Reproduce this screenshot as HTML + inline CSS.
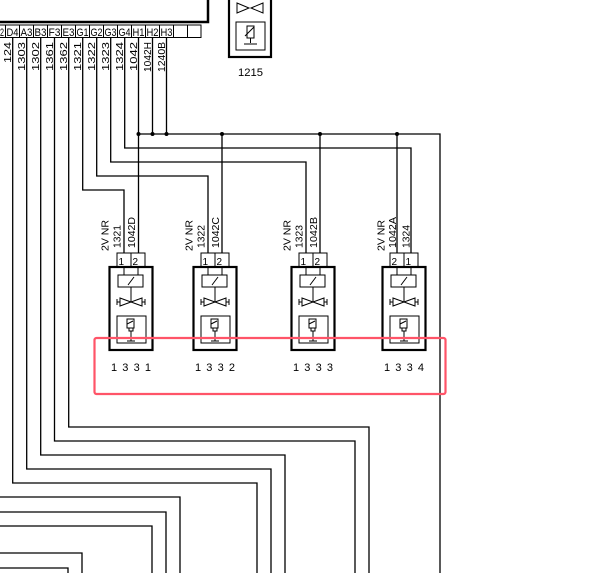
<!DOCTYPE html>
<html><head><meta charset="utf-8"><style>
html,body{margin:0;padding:0;background:#fff;}
svg{display:block;}
text{font-family:"Liberation Sans",sans-serif;fill:#000;}
</style></head><body>
<svg width="602" height="573" viewBox="0 0 602 573" xmlns="http://www.w3.org/2000/svg">
<g fill="none" stroke="#000" stroke-width="1.3">
<rect x="-5" y="-5" width="213" height="27" stroke-width="2.5"/>
<rect x="-2" y="25" width="203" height="12.5" stroke-width="1"/>
<path d="M5.5 25v12.5M19.5 25v12.5M33.5 25v12.5M47.5 25v12.5M61.5 25v12.5M75.5 25v12.5M89.5 25v12.5M103.5 25v12.5M117.5 25v12.5M131.5 25v12.5M145.5 25v12.5M159.5 25v12.5M173.5 25v12.5M187.5 25v12.5" stroke-width="1"/>
<rect x="229" y="-5" width="42" height="62" stroke-width="2.2"/>
<rect x="236" y="22" width="29" height="28" stroke-width="1"/>
<path d="M237 3l12 5-12 5zM263 3l-12 5 12 5z" stroke-width="1" fill="#fff"/>
<rect x="247" y="26" width="7" height="12" stroke-width="1"/>
<path d="M245 36l9-9M250.5 38v5M244 44h13" stroke-width="1"/>
<path d="M12.7 37.5V483H257V573"/>
<path d="M26.7 37.5V469H271V573"/>
<path d="M40.7 37.5V455H285V573"/>
<path d="M54.5 37.5V441H355V573"/>
<path d="M68.7 37.5V427H369V573"/>
<path d="M0 497H180V573"/>
<path d="M0 512H166V573"/>
<path d="M0 526H152V573"/>
<path d="M0 553H82V573"/>
<path d="M0 568H68V573"/>
<path d="M82.7 37.5V190H124V253"/>
<path d="M96.7 37.5V176H208V253"/>
<path d="M110.7 37.5V162H306V253"/>
<path d="M124.7 37.5V148H411V253"/>
<path d="M138.5 37.5V253"/>
<path d="M152.5 37.5V134M166.5 37.5V134"/>
<path d="M138.5 134H440V573"/>
<path d="M222 134V253M320 134V253M397 134V253"/>
</g>
<g fill="#000">
<circle cx="138.5" cy="134" r="2"/><circle cx="152.5" cy="134" r="2"/><circle cx="166.5" cy="134" r="2"/>
<circle cx="222" cy="134" r="2"/><circle cx="320" cy="134" r="2"/><circle cx="397" cy="134" r="2"/>
</g>
<g font-size="11">
<text x="0" y="36" textLength="4" lengthAdjust="spacingAndGlyphs">2</text>
<text x="6.5" y="36" textLength="12" lengthAdjust="spacingAndGlyphs">D4</text>
<text x="20.5" y="36" textLength="12" lengthAdjust="spacingAndGlyphs">A3</text>
<text x="34.5" y="36" textLength="12" lengthAdjust="spacingAndGlyphs">B3</text>
<text x="48.5" y="36" textLength="12" lengthAdjust="spacingAndGlyphs">F3</text>
<text x="62.5" y="36" textLength="12" lengthAdjust="spacingAndGlyphs">E3</text>
<text x="76.5" y="36" textLength="12" lengthAdjust="spacingAndGlyphs">G1</text>
<text x="90.5" y="36" textLength="12" lengthAdjust="spacingAndGlyphs">G2</text>
<text x="104.5" y="36" textLength="12" lengthAdjust="spacingAndGlyphs">G3</text>
<text x="118.5" y="36" textLength="12" lengthAdjust="spacingAndGlyphs">G4</text>
<text x="132.5" y="36" textLength="12" lengthAdjust="spacingAndGlyphs">H1</text>
<text x="146.5" y="36" textLength="12" lengthAdjust="spacingAndGlyphs">H2</text>
<text x="160.5" y="36" textLength="12" lengthAdjust="spacingAndGlyphs">H3</text>
</g>
<g font-size="10" text-anchor="end">
<text transform="translate(11,42) rotate(-90)" textLength="21" lengthAdjust="spacingAndGlyphs">124</text>
<text transform="translate(25,42) rotate(-90)" textLength="29" lengthAdjust="spacingAndGlyphs">1303</text>
<text transform="translate(39,42) rotate(-90)" textLength="29" lengthAdjust="spacingAndGlyphs">1302</text>
<text transform="translate(53,42) rotate(-90)" textLength="29" lengthAdjust="spacingAndGlyphs">1361</text>
<text transform="translate(67,42) rotate(-90)" textLength="29" lengthAdjust="spacingAndGlyphs">1362</text>
<text transform="translate(81,42) rotate(-90)" textLength="29" lengthAdjust="spacingAndGlyphs">1321</text>
<text transform="translate(95,42) rotate(-90)" textLength="29" lengthAdjust="spacingAndGlyphs">1322</text>
<text transform="translate(109,42) rotate(-90)" textLength="29" lengthAdjust="spacingAndGlyphs">1323</text>
<text transform="translate(123,42) rotate(-90)" textLength="29" lengthAdjust="spacingAndGlyphs">1324</text>
<text transform="translate(137,42) rotate(-90)" textLength="29" lengthAdjust="spacingAndGlyphs">1042</text>
<text transform="translate(151,42) rotate(-90)" textLength="30" lengthAdjust="spacingAndGlyphs">1042H</text>
<text transform="translate(165,42) rotate(-90)" textLength="30" lengthAdjust="spacingAndGlyphs">1240B</text>
</g>
<text x="238" y="76" font-size="11" textLength="25" lengthAdjust="spacingAndGlyphs">1215</text>

<defs>
<g id="inj" fill="none" stroke="#000">
<rect x="-21.5" y="267" width="43" height="83" stroke-width="2.2"/>
<rect x="-14" y="253" width="28" height="14" stroke-width="1"/>
<path d="M0 253v14M-7 267v8M7 267v8" stroke-width="1"/>
<rect x="-13" y="275" width="25" height="12" stroke-width="1"/>
<path d="M-3 285l6-8M0 287v15" stroke-width="1"/>
<path d="M-11 298l11 4-11 4zM11 298l-11 4 11 4z" stroke-width="1" fill="#fff"/>
<path d="M-14 302h3M11 302h3M-14 299v6M14 299v6" stroke-width="1"/>
<rect x="-14" y="316" width="29" height="27" stroke-width="1"/>
<rect x="-4" y="319" width="7" height="9" stroke-width="1"/>
<path d="M-4 324l6-3M-2 328v3h4v-3M0 331v10M-4 341h8" stroke-width="1"/>
</g>
</defs>
<use href="#inj" transform="translate(131,0)"/>
<use href="#inj" transform="translate(215,0)"/>
<use href="#inj" transform="translate(313,0)"/>
<use href="#inj" transform="translate(404,0)"/>
<g font-size="10">
<text x="118.5" y="265">1</text><text x="132.5" y="265">2</text>
<text x="202.5" y="265">1</text><text x="216.5" y="265">2</text>
<text x="300.5" y="265">1</text><text x="314.5" y="265">2</text>
<text x="391.5" y="265">2</text><text x="405.5" y="265">1</text>
</g>
<g font-size="10">
<text transform="translate(108.5,251) rotate(-90)" textLength="31" lengthAdjust="spacingAndGlyphs">2V  NR</text>
<text transform="translate(120.5,248) rotate(-90)" textLength="23" lengthAdjust="spacingAndGlyphs">1321</text>
<text transform="translate(135,248) rotate(-90)" textLength="31" lengthAdjust="spacingAndGlyphs">1042D</text>
<text transform="translate(192.5,251) rotate(-90)" textLength="31" lengthAdjust="spacingAndGlyphs">2V  NR</text>
<text transform="translate(204.5,248) rotate(-90)" textLength="23" lengthAdjust="spacingAndGlyphs">1322</text>
<text transform="translate(219,248) rotate(-90)" textLength="31" lengthAdjust="spacingAndGlyphs">1042C</text>
<text transform="translate(290.5,251) rotate(-90)" textLength="31" lengthAdjust="spacingAndGlyphs">2V  NR</text>
<text transform="translate(302.5,248) rotate(-90)" textLength="23" lengthAdjust="spacingAndGlyphs">1323</text>
<text transform="translate(317,248) rotate(-90)" textLength="31" lengthAdjust="spacingAndGlyphs">1042B</text>
<text transform="translate(384.5,251) rotate(-90)" textLength="31" lengthAdjust="spacingAndGlyphs">2V  NR</text>
<text transform="translate(396,248) rotate(-90)" textLength="31" lengthAdjust="spacingAndGlyphs">1042A</text>
<text transform="translate(409.5,248) rotate(-90)" textLength="23" lengthAdjust="spacingAndGlyphs">1324</text>
</g>
<g font-size="11">
<text x="111" y="371" textLength="40" lengthAdjust="spacing">1331</text>
<text x="195" y="371" textLength="40" lengthAdjust="spacing">1332</text>
<text x="293" y="371" textLength="40" lengthAdjust="spacing">1333</text>
<text x="384" y="371" textLength="40" lengthAdjust="spacing">1334</text>
</g>
<rect x="94.5" y="338" width="351" height="56" rx="2" fill="none" stroke="#ff5468" stroke-width="2.2"/>
</svg>
</body></html>
